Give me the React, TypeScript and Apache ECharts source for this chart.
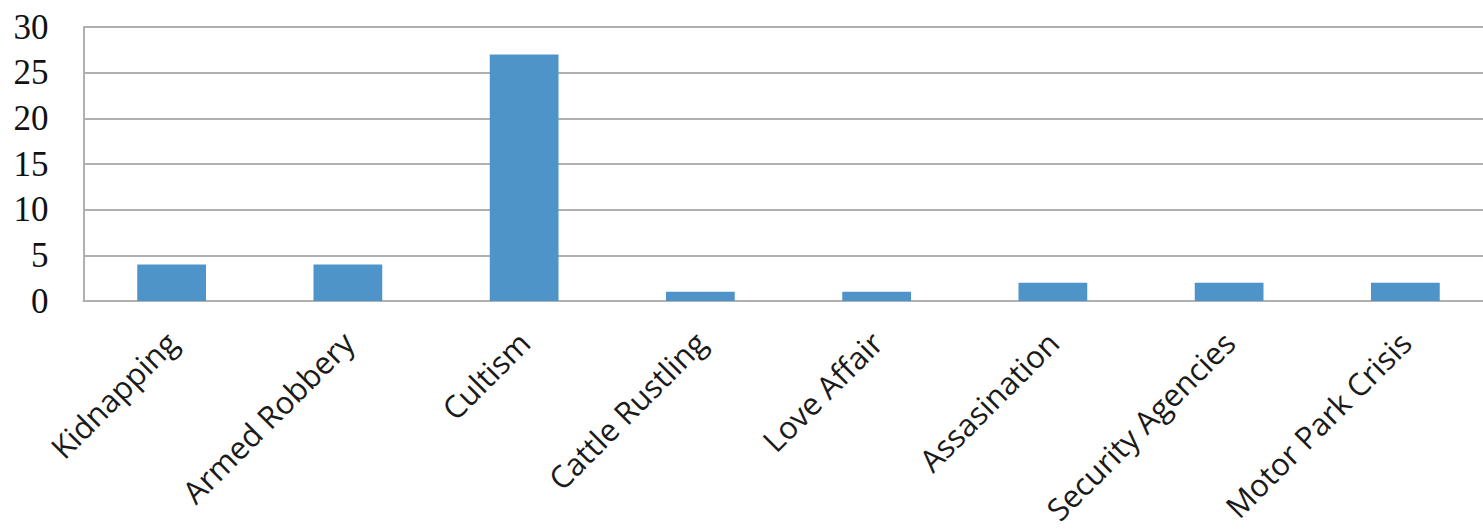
import React, { useEffect, useRef } from "react";
import * as echarts from "echarts";

const categories = [
  "Kidnapping",
  "Armed Robbery",
  "Cultism",
  "Cattle Rustling",
  "Love Affair",
  "Assasination",
  "Security Agencies",
  "Motor Park Crisis",
];
const values = [4, 4, 27, 1, 1, 2, 2, 2];
const yMin = 0;
const yMax = 30;
const yInterval = 5;

export default function App() {
  const ref = useRef<HTMLDivElement>(null);
  useEffect(() => {
    document.body.style.margin = "0";
    const chart = echarts.init(ref.current!, undefined, { renderer: "svg" });
    chart.setOption({
      animation: false,
      backgroundColor: "#ffffff",
      grid: {
        left: 83.5,
        top: 27,
        bottom: 228,
        right: 6.5,
        containLabel: false,
        outerBoundsMode: "none",
      },
      xAxis: {
        type: "category",
        data: categories,
        axisLine: { lineStyle: { color: "#b0b0b0", width: 2 } },
        axisTick: { show: false },
        axisLabel: {
          rotate: 45,
          interval: 0,
          margin: 36,
          padding: [56, 0, 0, 0],
          fontFamily: "Open Sans",
          fontSize: 31,
          color: "#1a1a1a",
        },
      },
      yAxis: {
        type: "value",
        min: yMin,
        max: yMax,
        interval: yInterval,
        axisLine: { show: true, lineStyle: { color: "#b0b0b0", width: 2 } },
        axisTick: { show: false },
        splitLine: { lineStyle: { color: "#b0b0b0", width: 2 } },
        axisLabel: {
          margin: 35,
          fontFamily: "Liberation Serif",
          fontSize: 35,
          color: "#111111",
        },
      },
      series: [
        {
          type: "bar",
          data: values,
          barWidth: "39%",
          itemStyle: { color: "#4e94c9" },
        },
      ],
    });
    return () => chart.dispose();
  }, []);
  return (
    <div
      style={{
        position: "absolute",
        left: 0,
        top: 0,
        width: 1483,
        height: 529,
        overflow: "hidden",
      }}
    >
      <div ref={ref} style={{ width: 1500, height: 529 }} />
    </div>
  );
}
